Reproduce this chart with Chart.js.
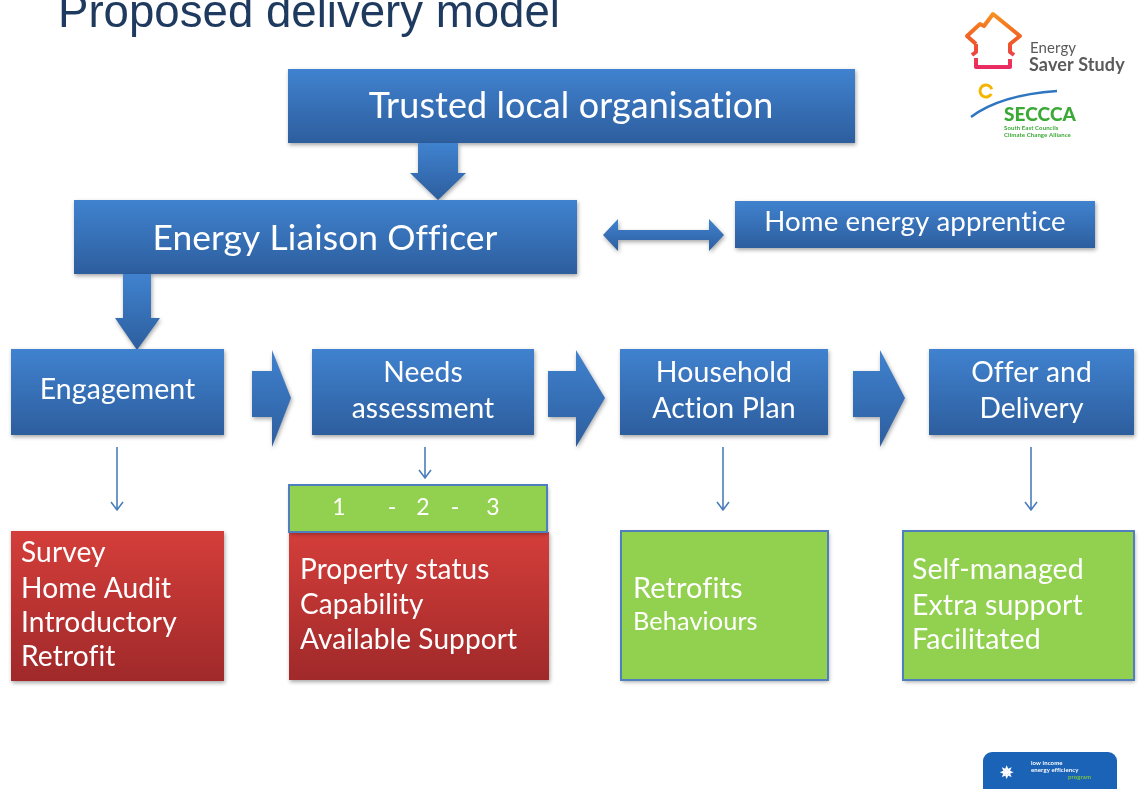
<!DOCTYPE html>
<html>
<head>
<meta charset="utf-8">
<script src="https://cdn.jsdelivr.net/npm/chart.js@4.4.0/dist/chart.umd.min.js"></script>
<style>
  html, body { margin: 0; padding: 0; background: #fff; }
  canvas { display: block; }
</style>
</head>
<body>
<canvas id="diagram" width="1139" height="789"></canvas>
<script>
// text content of the slide
const title = 'Proposed delivery model'
const topOrg = ['Trusted local organisation']
const officer = ['Energy Liaison Officer']
const apprentice = ['Home energy apprentice']
const stages = [['Engagement'], ['Needs', 'assessment'], ['Household', 'Action Plan'], ['Offer and', 'Delivery']]
const stageDetails = [
    ['Survey', 'Home Audit', 'Introductory', 'Retrofit'],
    ['Property status', 'Capability', 'Available Support'],
    ['Retrofits', 'Behaviours'],
    ['Self-managed', 'Extra support', 'Facilitated']
]
const needsLevels = ['1', '-', '2', '-', '3']

// layout in slide units (x 0..1139, y 0..789)
const stageBoxes = [[11, 349, 224, 435], [312, 349, 534, 435], [620, 349, 828, 435], [929, 349, 1134, 435]]
const stageTextW = [155, 142, 143, 120]
const detailBoxes = [[11, 531, 224, 681], [289, 532, 549, 680], [621, 531, 828, 680], [903, 531, 1134, 680]]
const detailText = [
    {x: 21, y: [553, 589, 623, 657], w: 155, color: 'red'},
    {x: 300, y: [570, 605, 640], w: 216, color: 'red'},
    {x: 633, y: [589, 622], w: 109, color: 'green'},
    {x: 912, y: [570, 606, 640], w: 171, color: 'green'}
]
const chevrons = [[252, 272, 291], [548, 576, 605], [853, 880, 905]]
const thinArrows = [[117, 447, 510], [425, 447, 478], [723, 447, 510], [1031, 447, 510]]
const levelsX = [339, 392, 423, 455, 493]

const SANS = 'Lato, "Open Sans", sans-serif'

function fontSize(ctx, lines, width) {
    ctx.font = '100px ' + SANS
    ctx.letterSpacing = '0.1px'
    const m = Math.max(...lines.map(l => ctx.measureText(l).width))
    return 100 * width / m
}

const slidePlugin = {
    id: 'slide',
    afterDraw(chart) {
        const ctx = chart.ctx
        const px = v => chart.scales.x.getPixelForValue(v)
        const py = v => chart.scales.y.getPixelForValue(v)

        const grad = (y0, y1, c0, c1) => {
            const g = ctx.createLinearGradient(0, py(y0), 0, py(y1))
            g.addColorStop(0, c0)
            g.addColorStop(1, c1)
            return g
        }
        const blue = (y0, y1) => grad(y0, y1, '#4082cf', '#2d5e9e')
        const shadow = () => {
            ctx.shadowColor = 'rgba(0,0,0,0.35)'
            ctx.shadowBlur = 4
            ctx.shadowOffsetX = 1
            ctx.shadowOffsetY = 2
        }
        const box = (b, fill, stroke) => {
            ctx.save()
            shadow()
            ctx.fillStyle = fill
            ctx.fillRect(px(b[0]), py(b[1]), px(b[2]) - px(b[0]), py(b[3]) - py(b[1]))
            ctx.restore()
            if (stroke) {
                ctx.save()
                ctx.strokeStyle = stroke
                ctx.lineWidth = 2
                ctx.strokeRect(px(b[0]), py(b[1]), px(b[2]) - px(b[0]), py(b[3]) - py(b[1]))
                ctx.restore()
            }
        }
        const poly = (pts, fill) => {
            ctx.save()
            shadow()
            ctx.beginPath()
            pts.forEach((p, i) => i ? ctx.lineTo(px(p[0]), py(p[1])) : ctx.moveTo(px(p[0]), py(p[1])))
            ctx.closePath()
            ctx.fillStyle = fill
            ctx.fill()
            ctx.restore()
        }
        const text = (lines, x, ys, size, align, color, weight) => {
            ctx.save()
            ctx.font = (weight || 'normal') + ' ' + size + 'px ' + SANS
            ctx.letterSpacing = '0.1px' // keeps "fi" from turning into a ligature
            ctx.fillStyle = color || '#fff'
            ctx.textAlign = align
            ctx.textBaseline = 'middle'
            lines.forEach((l, i) => ctx.fillText(l, px(x), py(ys[i])))
            ctx.restore()
        }

        // title
        ctx.save()
        ctx.font = '40px "Liberation Sans", Arial, sans-serif'
        const tw = ctx.measureText(title).width
        ctx.font = (40 * 502 / tw) + 'px "Liberation Sans", Arial, sans-serif'
        ctx.fillStyle = '#1f3a5f'
        ctx.textBaseline = 'alphabetic'
        ctx.fillText(title, px(58), py(27))
        ctx.restore()

        // top boxes
        box([288, 69, 855, 143], blue(69, 143))
        text(topOrg, 571, [106], fontSize(ctx, topOrg, 403), 'center')
        poly([[418, 143], [458, 143], [458, 173], [466, 173], [438, 200], [410, 173], [418, 173]], blue(143, 200))

        box([74, 200, 577, 274], blue(200, 274))
        text(officer, 325, [239], fontSize(ctx, officer, 344), 'center')
        poly([[123, 274], [151, 274], [151, 318], [160, 318], [137, 350], [115, 318], [123, 318]], blue(274, 350))

        poly([[603, 235], [618, 219], [618, 230], [709, 230], [709, 219], [724, 235], [709, 251], [709, 240], [618, 240], [618, 251]], blue(219, 251))
        box([735, 201, 1095, 248], blue(201, 248))
        text(apprentice, 915, [222], fontSize(ctx, apprentice, 300), 'center')

        // stage row
        stageBoxes.forEach((b, i) => {
            box(b, blue(b[1], b[3]))
            const cx = (b[0] + b[2]) / 2
            const ys = stages[i].length === 1 ? [390] : [373, 409]
            text(stages[i], cx, ys, fontSize(ctx, stages[i], stageTextW[i]), 'center')
        })
        chevrons.forEach(c => {
            poly([[c[0], 371], [c[1], 371], [c[1], 350], [c[2], 398], [c[1], 447], [c[1], 417], [c[0], 417]], blue(350, 447))
        })

        // thin arrows
        thinArrows.forEach(a => {
            ctx.save()
            ctx.strokeStyle = '#4a7ebb'
            ctx.lineWidth = 1.6
            ctx.beginPath()
            ctx.moveTo(px(a[0]), py(a[1]))
            ctx.lineTo(px(a[0]), py(a[2]))
            ctx.moveTo(px(a[0] - 6), py(a[2] - 8))
            ctx.lineTo(px(a[0]), py(a[2]))
            ctx.lineTo(px(a[0] + 6), py(a[2] - 8))
            ctx.stroke()
            ctx.restore()
        })

        // detail boxes
        detailBoxes.forEach((b, i) => {
            const d = detailText[i]
            if (d.color === 'red') box(b, grad(b[1], b[3], '#d43e3a', '#a0292a'))
            else box(b, '#92d050', '#4f7fbd')
            const lines = stageDetails[i]
            if (i === 2) {
                text([lines[0]], d.x, [d.y[0]], fontSize(ctx, [lines[0]], d.w), 'left')
                text([lines[1]], d.x, [d.y[1]], fontSize(ctx, [lines[1]], 124), 'left')
            } else {
                text(lines, d.x, d.y, fontSize(ctx, lines, d.w), 'left')
            }
        })

        // 1-2-3 strip
        box([289, 485, 547, 532], '#92d050', '#4f7fbd')
        needsLevels.forEach((l, i) => text([l], levelsX[i], [508], 23, 'center'))

        // Energy Saver Study logo
        ctx.save()
        const hg = ctx.createLinearGradient(0, py(12), 0, py(72))
        hg.addColorStop(0, '#f7941d')
        hg.addColorStop(0.5, '#f05a28')
        hg.addColorStop(1, '#e8236f')
        ctx.strokeStyle = hg
        ctx.lineWidth = 4
        ctx.lineJoin = 'round'
        ctx.beginPath()
        ctx.moveTo(px(976), py(44)); ctx.lineTo(px(967), py(36)); ctx.lineTo(px(980), py(24))
        ctx.lineTo(px(984), py(26)); ctx.lineTo(px(993), py(14)); ctx.lineTo(px(1020), py(36))
        ctx.lineTo(px(1010), py(44)); ctx.lineTo(px(1010), py(52)); ctx.lineTo(px(1014), py(55))
        ctx.stroke()
        ctx.beginPath()
        ctx.moveTo(px(976), py(44)); ctx.lineTo(px(976), py(52)); ctx.lineTo(px(972), py(55))
        ctx.moveTo(px(976), py(58)); ctx.lineTo(px(976), py(67)); ctx.lineTo(px(1010), py(67))
        ctx.lineTo(px(1010), py(59))
        ctx.stroke()
        ctx.fillStyle = '#5a5a5a'
        ctx.font = '15px ' + SANS
        ctx.fillText('Energy', px(1030), py(53))
        ctx.font = 'bold 18px ' + SANS
        ctx.fillText('Saver Study', px(1029), py(71))
        // SECCCA logo
        ctx.strokeStyle = '#f5b400'
        ctx.lineWidth = 3
        ctx.beginPath()
        ctx.arc(px(986), py(91), 6, 0.5, 2 * Math.PI - 0.3)
        ctx.stroke()
        ctx.strokeStyle = '#2e76c0'
        ctx.lineWidth = 2.5
        ctx.beginPath()
        ctx.moveTo(px(971), py(117))
        ctx.quadraticCurveTo(px(1000), py(95), px(1057), py(91))
        ctx.stroke()
        ctx.fillStyle = '#3aa935'
        ctx.font = '900 19px ' + SANS
        ctx.fillText('SECCCA', px(1004), py(121))
        ctx.font = 'bold 6px ' + SANS
        ctx.fillText('South East Councils', px(1004), py(130))
        ctx.fillText('Climate Change Alliance', px(1004), py(137))
        // low income energy efficiency program logo
        ctx.fillStyle = '#1a63b6'
        ctx.beginPath()
        ctx.roundRect(px(983), py(752), px(1117) - px(983), 60, 9)
        ctx.fill()
        ctx.fillStyle = '#fff'
        ctx.font = 'bold 6px ' + SANS
        ctx.fillText('low income', px(1031), py(765))
        ctx.fillText('energy efficiency', px(1031), py(772))
        ctx.fillStyle = '#7ac143'
        ctx.fillText('program', px(1068), py(779))
        ctx.fillStyle = '#fff'
        ctx.font = 'bold 16px ' + SANS
        ctx.fillText('\u2735', px(1000), py(778))
        ctx.restore()
    }
}

new Chart(document.getElementById('diagram'), {
    type: 'scatter',
    data: {datasets: [{data: []}]},
    options: {
        responsive: false,
        animation: false,
        events: [],
        layout: {padding: 0},
        plugins: {legend: {display: false}, tooltip: {enabled: false}},
        scales: {
            x: {type: 'linear', min: 0, max: 1139, display: false},
            y: {type: 'linear', min: 0, max: 789, reverse: true, display: false}
        }
    },
    plugins: [slidePlugin]
})
</script>
</body>
</html>
